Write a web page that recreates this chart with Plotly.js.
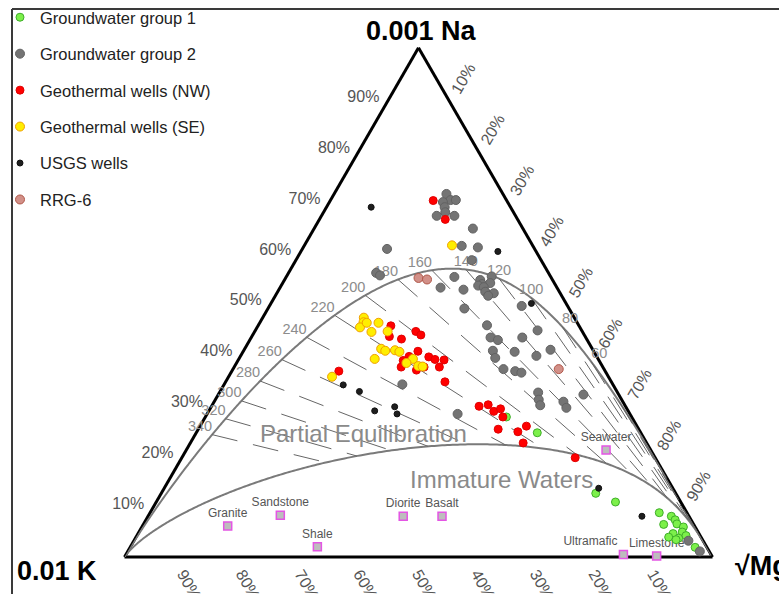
<!DOCTYPE html>
<html>
<head>
<meta charset="utf-8">
<script src="https://cdn.plot.ly/plotly-3.0.1.min.js"></script>
<style>
  html, body { margin: 0; padding: 0; background: #fff; }
  #chart { width: 779px; height: 594px; }
</style>
</head>
<body>
<div id="chart"></div>
<script>
// Giggenbach Na-K-Mg ternary diagram.
// Components are percentages of (Na/1000 + K/100 + sqrt(Mg)); every sample is
// stored as its Na and sqrt(Mg) share, the K share is the remainder.

const gw1Na = [27.5, 24.4, 12.5, 10.8, 8.7, 6.4, 8.0, 7.3, 6.5, 5.9, 4.9, 4.6, 3.7, 3.9, 4.2, 1.9, 3.4];
const gw1Mg = [51.2, 58.0, 73.9, 78.1, 86.6, 88.5, 89.0, 90.0, 90.7, 92.1, 92.4, 91.0, 92.4, 90.6, 93.4, 96.1, 92.1];

const gw2Na = [71.3, 70.1, 70.1, 69.7, 68.7, 67.7, 67.0, 67.0, 64.5, 60.5, 61.1, 60.8, 58.3, 55.8, 55.3, 55.0, 55.1, 54.4,
               53.6, 53.8, 53.3, 53.0, 52.1, 51.8, 51.3, 52.9, 52.5, 49.3, 48.8, 45.5, 43.1, 42.6, 43.1, 44.5, 40.5, 39.1,
               40.3, 39.5, 40.7, 36.9, 36.5, 36.2, 32.3, 30.9, 29.8, 30.5, 29.3, 31.9, 33.9, 28.1, 3.2, 1.1];
const gw2Mg = [19.1, 20.4, 21.3, 19.3, 20.1, 20.7, 19.6, 22.6, 27.0, 14.4, 26.8, 29.7, 29.9, 14.9, 15.8, 28.6, 34.9, 33.3,
               34.0, 35.3, 33.5, 34.6, 35.3, 36.9, 36.2, 27.3, 31.4, 42.9, 33.4, 38.9, 40.7, 42.2, 46.1, 48.0, 42.4, 43.5,
               46.2, 50.3, 52.1, 46.0, 48.2, 49.4, 54.2, 55.0, 55.8, 59.4, 60.5, 62.1, 30.3, 42.6, 94.3, 97.3];

const nwNa = [70.0, 66.3, 45.4, 43.3, 42.8, 44.3, 43.6, 40.4, 39.4, 38.6, 37.3, 36.7, 37.3, 39.3, 38.8, 38.7, 37.3, 34.4,
              36.5, 29.6, 29.9, 28.6, 29.1, 27.5, 25.1, 24.6, 25.7, 22.4, 19.5];
const nwMg = [17.5, 21.4, 22.6, 23.4, 25.7, 27.4, 28.6, 29.7, 28.7, 28.1, 28.4, 31.3, 32.3, 32.1, 33.4, 35.0, 34.9, 37.3,
              18.2, 45.5, 46.9, 48.5, 49.4, 50.6, 51.0, 54.6, 55.5, 56.6, 66.9];

const seNa = [47.0, 46.1, 45.1, 46.0, 46.0, 44.2, 44.3, 40.9, 40.5, 38.9, 40.6, 40.3, 38.9, 38.1, 37.5, 37.4, 35.4, 61.2];
const seMg = [17.2, 17.6, 17.5, 18.2, 20.2, 19.9, 22.6, 23.2, 24.1, 23.1, 25.7, 26.6, 29.6, 28.9, 31.2, 32.0, 17.6, 25.1];

const usgsNa = [68.7, 60.0, 49.8, 33.8, 32.5, 28.7, 29.5, 28.1, 13.5, 8.0];
const usgsMg = [7.6, 33.5, 44.3, 20.3, 23.7, 28.2, 31.2, 32.3, 73.9, 84.0];

const rrgNa = [54.8, 54.5, 36.9];
const rrgMg = [22.6, 24.2, 55.4];

const rockNames = ['Granite', 'Sandstone', 'Shale', 'Diorite', 'Basalt', 'Seawater', 'Ultramafic', 'Limestone'];
const rockNa = [6.1, 8.2, 2.0, 8.0, 8.0, 21.0, 0.5, 0.2];
const rockMg = [14.5, 22.4, 31.8, 43.4, 50.0, 71.4, 84.6, 90.4];

const axisTicks = [10, 20, 30, 40, 50, 60, 70, 80, 90];
const axisTickText = axisTicks.map(v => v + '%');

// Geothermometers (Giggenbach 1988) and the maturity index of the immature-water boundary
const NAK = { a: 1390, b: 1.75 };   // log(Na/K) = a/T - b
const KMG = { a: 4410, b: 14.0 };   // log(K2/Mg) = b - a/T
const MI_IMMATURE = 2.0;            // MI = 0.315 log(K2/Mg) - log(K/Na)
const isothermTemps = [20, 40, 60, 80, 100, 120, 140, 160, 180, 200, 220, 240, 260, 280, 300, 320, 340];
const labelTemps = [60, 80, 100, 120, 140, 160, 180, 200, 220, 240, 260, 280, 300, 320, 340];

// ternary components from Na/K and K2/Mg ratios (scale independent)
function components(naK, k2Mg) {
  const c1 = naK / 10, c2 = 1, c3 = 100 / Math.sqrt(k2Mg);
  const s = c1 + c2 + c3;
  return [100 * c1 / s, 100 * c2 / s, 100 * c3 / s];
}
const naKat = T => Math.pow(10, NAK.a / (T + 273.15) - NAK.b);
const k2Mgat = T => Math.pow(10, KMG.b - KMG.a / (T + 273.15));
function fullEquilibrium(T) { return components(naKat(T), k2Mgat(T)); }
function immatureAtNaK(naK) {
  const u = (MI_IMMATURE - Math.log10(naK)) / 0.315;
  return components(naK, Math.pow(10, u));
}

// full equilibrium curve
const feq = { a: [], b: [], c: [] };
for (let T = 0; T <= 1500; T += (T < 400 ? 1 : 10)) {
  const p = fullEquilibrium(T);
  feq.a.push(p[0]); feq.b.push(p[1]); feq.c.push(p[2]);
}
// boundary of immature waters
const imm = { a: [], b: [], c: [] };
for (let u = -8; u <= 16; u += 0.02) {
  const p = components(Math.pow(10, MI_IMMATURE - 0.315 * u), Math.pow(10, u));
  imm.a.push(p[0]); imm.b.push(p[1]); imm.c.push(p[2]);
}
// Na-K isotherms between the two curves
const iso = { a: [], b: [], c: [] };
isothermTemps.forEach(T => {
  const p = fullEquilibrium(T), q = immatureAtNaK(naKat(T));
  iso.a.push(p[0], q[0], null); iso.b.push(p[1], q[1], null); iso.c.push(p[2], q[2], null);
});
const lab = { a: [], b: [], c: [], pos: [] };
labelTemps.forEach(T => {
  const p = fullEquilibrium(T);
  lab.a.push(p[0]); lab.b.push(p[1]); lab.c.push(p[2]);
  lab.pos.push(T >= 160 ? 'top left' : (T >= 100 ? 'top center' : 'top right'));
});

const kRest = (na, mg) => na.map((v, i) => 100 - v - mg[i]);

function samples(name, na, mg, fill, line, size) {
  return {
    type: 'scatterternary', mode: 'markers', name: name, legendgroup: name,
    a: na, b: kRest(na, mg), c: mg, cliponaxis: false,
    marker: { symbol: 'circle', size: size, color: fill, line: { color: line, width: 1 } },
    hoverinfo: 'name+a+b+c'
  };
}

const FONT = 'Liberation Sans, Arial, sans-serif';

const traces = [
  { type: 'scatterternary', mode: 'lines', a: feq.a, b: feq.b, c: feq.c, showlegend: false,
    line: { color: '#7a7a7a', width: 2 }, hoverinfo: 'skip' },
  { type: 'scatterternary', mode: 'lines', a: imm.a, b: imm.b, c: imm.c, showlegend: false,
    line: { color: '#7a7a7a', width: 2 }, hoverinfo: 'skip' },
  { type: 'scatterternary', mode: 'lines', a: iso.a, b: iso.b, c: iso.c, showlegend: false, connectgaps: false,
    line: { color: '#666', width: 1, dash: '26px,16px' }, hoverinfo: 'skip' },
  { type: 'scatterternary', mode: 'text', a: lab.a, b: lab.b, c: lab.c, showlegend: false, cliponaxis: false,
    text: labelTemps.map(String), textposition: lab.pos,
    textfont: { family: FONT, size: 14.5, color: '#8c8c8c' }, hoverinfo: 'skip' },
  { type: 'scatterternary', mode: 'markers+text', a: rockNa, b: kRest(rockNa, rockMg), c: rockMg, showlegend: false,
    text: rockNames, cliponaxis: false,
    textposition: ['top center', 'top center', 'top center', 'top center', 'top center', 'top center', 'top left', 'top center'],
    textfont: { family: FONT, size: 12, color: '#555' },
    marker: { symbol: 'square', size: 8, color: '#bdbdbd', line: { color: '#e455e4', width: 1.5 } },
    hoverinfo: 'text+a+b+c' },
  samples('Groundwater group 1', gw1Na, gw1Mg, '#7cf04a', '#3fae2a', 8),
  samples('Groundwater group 2', gw2Na, gw2Mg, '#747474', '#626262', 9),
  samples('Geothermal wells (NW)', nwNa, nwMg, '#ff0000', '#e00000', 8),
  samples('Geothermal wells (SE)', seNa, seMg, '#ffee00', '#f0a000', 9),
  samples('USGS wells', usgsNa, usgsMg, '#1e1e1e', '#111', 6),
  samples('RRG-6', rrgNa, rrgMg, '#d29088', '#b0584a', 9)
];

// tick marks are invisible; their length only sets the label distance from the edge
function axis(angle, gap) {
  return {
    min: 0, tickmode: 'array', tickvals: axisTicks, ticktext: axisTickText,
    ticks: gap ? 'outside' : '', ticklen: gap || 0, tickcolor: 'rgba(0,0,0,0)',
    tickangle: angle, tickfont: { family: FONT, size: 16, color: '#555' }, layer: 'below traces',
    showgrid: false, showline: true, linecolor: '#000', linewidth: 3, title: { text: '' }
  };
}

const W = 779, H = 594;
function label(text, x, y, size, color, xanchor) {
  return { text: text, xref: 'paper', yref: 'paper', x: x / W, y: 1 - y / H, showarrow: false,
           xanchor: xanchor || 'center', yanchor: 'middle', font: { family: FONT, size: size, color: color } };
}

const layout = {
  width: W, height: H,
  margin: { l: 0, r: 0, t: 0, b: 0 },
  paper_bgcolor: '#fff',
  font: { family: FONT },
  showlegend: true,
  legend: {
    x: 0, y: 1, xanchor: 'left', yanchor: 'top',
    bgcolor: 'rgba(0,0,0,0)', font: { family: FONT, size: 16.5, color: '#222' },
    tracegroupgap: 12, itemwidth: 30
  },
  ternary: {
    sum: 100, bgcolor: 'rgba(0,0,0,0)',
    domain: { x: [124.5 / W, 712.5 / W], y: [1 - 557 / H, 1 - 47.8 / H] },
    aaxis: axis(0, 6), baxis: axis(60, 0), caxis: axis(-60, 3)
  },
  shapes: [
    { type: 'line', xref: 'paper', yref: 'paper', x0: 12 / W, x1: 12 / W, y0: 0, y1: 1 - 9 / H,
      line: { color: '#3a3a3a', width: 2 } },
    { type: 'line', xref: 'paper', yref: 'paper', x0: 12 / W, x1: 1, y0: 1 - 9 / H, y1: 1 - 9 / H,
      line: { color: '#3a3a3a', width: 2 } }
  ],
  annotations: [
    label('<b>0.001 Na</b>', 421, 31, 27, '#000'),
    label('<b>0.01 K</b>', 57, 571, 27, '#000'),
    label('<b>√Mg</b>', 733, 566, 27, '#000', 'left'),
    label('Partial Equilibration', 363, 433, 24, '#8a8a8a'),
    label('Immature Waters', 502, 479, 24, '#8a8a8a')
  ]
};

Plotly.newPlot('chart', traces, layout, { displayModeBar: false, staticPlot: true });
</script>
</body>
</html>
